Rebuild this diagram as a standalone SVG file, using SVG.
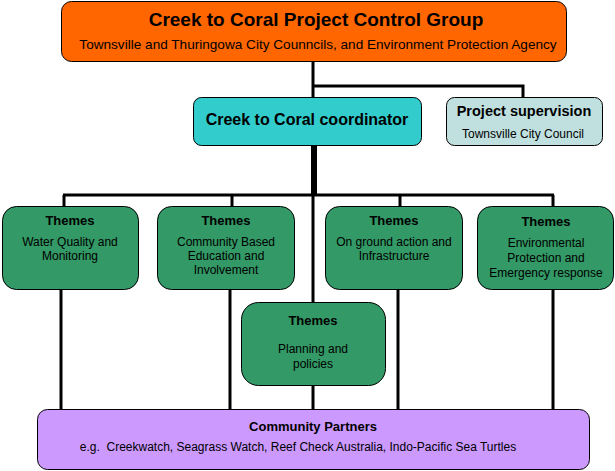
<svg xmlns="http://www.w3.org/2000/svg" width="615" height="471" viewBox="0 0 615 471">
<style>
  .box { stroke: #000; stroke-width: 1; }
  .orange { fill: #FF6600; }
  .cyan { fill: #33CCCC; }
  .pale { fill: #C0E0E0; }
  .green { fill: #339966; }
  .purple { fill: #CC99FF; }
  text { font-family: "Liberation Sans", Arial, sans-serif; fill: #000; text-anchor: middle; dominant-baseline: central; white-space: pre; }
  .b { font-weight: bold; }
  .ln { stroke: #000; stroke-width: 3; fill: none; }
  .thick { stroke: #000; stroke-width: 6; fill: none; }
</style>
<rect width="615" height="471" fill="#fff"/>
<g id="connectors">
  <line class="ln" x1="313" y1="61" x2="313" y2="97"/>
  <polyline class="ln" points="313,86 523,86 523,97"/>
  <line class="thick" x1="314" y1="145" x2="314" y2="196"/>
  <line class="ln" x1="63" y1="195" x2="554" y2="195"/>
  <line class="ln" x1="64" y1="195" x2="64" y2="206"/>
  <line class="ln" x1="232" y1="195" x2="232" y2="206"/>
  <line class="ln" x1="400" y1="195" x2="400" y2="206"/>
  <line class="ln" x1="553" y1="195" x2="553" y2="206"/>
  <line class="ln" x1="313" y1="195" x2="313" y2="302"/>
  <line class="ln" x1="61" y1="289" x2="61" y2="409"/>
  <line class="ln" x1="230" y1="289" x2="230" y2="409"/>
  <line class="ln" x1="398" y1="289" x2="398" y2="409"/>
  <line class="ln" x1="553" y1="289" x2="553" y2="409"/>
  <line class="ln" x1="313" y1="385" x2="313" y2="409"/>
</g>
<g id="control-group">
  <rect class="box orange" x="61.5" y="1.5" width="505" height="60" rx="10"/>
  <text class="b" x="316" y="19" font-size="19">Creek to Coral Project Control Group</text>
  <text x="318" y="44" font-size="13.6">Townsville and Thuringowa City Counncils, and Environment Protection Agency</text>
</g>
<g id="coordinator">
  <rect class="box cyan" x="193.5" y="97.5" width="228" height="48" rx="8"/>
  <text class="b" x="307" y="119" font-size="16">Creek to Coral coordinator</text>
</g>
<g id="supervision">
  <rect class="box pale" x="446.5" y="97.5" width="156" height="48" rx="8"/>
  <text class="b" x="524" y="111" font-size="14.5">Project supervision</text>
  <text x="523" y="134" font-size="12">Townsville City Council</text>
</g>
<g id="theme-water">
  <rect class="box green" x="2.5" y="206.5" width="136" height="83" rx="14"/>
  <text class="b" x="70" y="220" font-size="13">Themes</text>
  <text x="70" y="242" font-size="12">Water Quality and</text>
  <text x="70" y="256" font-size="12">Monitoring</text>
</g>
<g id="theme-community">
  <rect class="box green" x="157.5" y="206.5" width="137" height="83" rx="14"/>
  <text class="b" x="226" y="220" font-size="13">Themes</text>
  <text x="226" y="242" font-size="12">Community Based</text>
  <text x="226" y="256" font-size="12">Education and</text>
  <text x="226" y="270" font-size="12">Involvement</text>
</g>
<g id="theme-ground">
  <rect class="box green" x="325.5" y="206.5" width="137" height="83" rx="14"/>
  <text class="b" x="394" y="220" font-size="13">Themes</text>
  <text x="394" y="242" font-size="12">On ground action and</text>
  <text x="394" y="256" font-size="12">Infrastructure</text>
</g>
<g id="theme-environment">
  <rect class="box green" x="477.5" y="206.5" width="136" height="83" rx="14"/>
  <text class="b" x="546" y="221" font-size="13">Themes</text>
  <text x="546" y="243" font-size="12">Environmental</text>
  <text x="546" y="258" font-size="12">Protection and</text>
  <text x="546" y="273" font-size="12">Emergency response</text>
</g>
<g id="theme-planning">
  <rect class="box green" x="241.5" y="302.5" width="144" height="83" rx="17"/>
  <text class="b" x="313" y="320" font-size="13">Themes</text>
  <text x="313" y="349" font-size="12">Planning and</text>
  <text x="313" y="364" font-size="12">policies</text>
</g>
<g id="community-partners">
  <rect class="box purple" x="37.5" y="409.5" width="552" height="60" rx="10"/>
  <text class="b" x="313" y="426" font-size="13">Community Partners</text>
  <text x="298" y="447" font-size="12">e.g.  Creekwatch, Seagrass Watch, Reef Check Australia, Indo-Pacific Sea Turtles</text>
</g>
</svg>
